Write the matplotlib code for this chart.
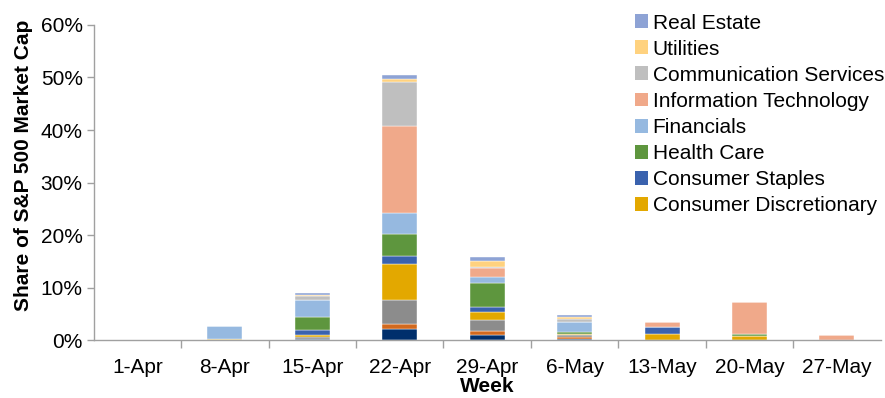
import matplotlib.pyplot as plt
from matplotlib.ticker import FixedLocator, FuncFormatter, NullFormatter
from matplotlib.patches import Patch
import numpy as np

plt.rcParams['font.family'] = ['Liberation Sans', 'DejaVu Sans']

weeks = ['1-Apr', '8-Apr', '15-Apr', '22-Apr', '29-Apr', '6-May', '13-May', '20-May', '27-May']

# share of S&P 500 market cap (%), by sector, bottom to top
energy       = [0, 0.0, 0.1, 2.1, 1.0, 0.1, 0.0, 0.0, 0.0]
materials    = [0, 0.0, 0.1, 1.0, 0.7, 0.5, 0.0, 0.0, 0.0]
industrials  = [0, 0.0, 0.4, 4.6, 2.2, 0.4, 0.0, 0.0, 0.0]
cons_disc    = [0, 0.1, 0.3, 6.7, 1.4, 0.2, 1.1, 0.8, 0.0]
cons_staples = [0, 0.0, 1.0, 1.6, 1.0, 0.0, 1.3, 0.0, 0.0]
health_care  = [0, 0.0, 2.5, 4.2, 4.6, 0.3, 0.0, 0.4, 0.05]
financials   = [0, 2.6, 3.2, 4.0, 1.1, 2.0, 0.0, 0.0, 0.0]
info_tech    = [0, 0.0, 0.1, 16.6, 1.8, 0.0, 1.0, 6.1, 0.9]
comm_serv    = [0, 0.0, 0.6, 8.3, 0.2, 0.5, 0.0, 0.0, 0.0]
utilities    = [0, 0.0, 0.2, 0.6, 1.0, 0.4, 0.0, 0.0, 0.0]
real_estate  = [0, 0.0, 0.4, 0.8, 0.9, 0.3, 0.0, 0.0, 0.0]

series = [
    ('Energy', energy, '#002F6C'),
    ('Materials', materials, '#D2691E'),
    ('Industrials', industrials, '#8C8C8C'),
    ('Consumer Discretionary', cons_disc, '#E3A800'),
    ('Consumer Staples', cons_staples, '#3A62AE'),
    ('Health Care', health_care, '#5E963E'),
    ('Financials', financials, '#96B9E0'),
    ('Information Technology', info_tech, '#F0A98A'),
    ('Communication Services', comm_serv, '#BFBFBF'),
    ('Utilities', utilities, '#FFD27F'),
    ('Real Estate', real_estate, '#8EA3D5'),
]
legend_names = ['Real Estate', 'Utilities', 'Communication Services', 'Information Technology',
                'Financials', 'Health Care', 'Consumer Staples', 'Consumer Discretionary']

FS = 15

fig = plt.figure(figsize=(8.85, 3.98), dpi=100)
ax = fig.add_axes([0.106, 0.1457, 0.889, 0.7915])

x = np.arange(len(weeks))
bottom = np.zeros(len(weeks))
colors = {}
for name, vals, col in series:
    vals = np.array(vals, dtype=float)
    ax.bar(x, vals, width=0.4, bottom=bottom, color=col, edgecolor='white', linewidth=0.3)
    bottom += vals
    colors[name] = col

ax.set_xlim(-0.5, len(weeks) - 0.5)
ax.set_ylim(0, 60)
ax.set_yticks(np.arange(0, 61, 10))
ax.yaxis.set_major_formatter(FuncFormatter(lambda v, p: f'{v:.0f}%'))

# category labels centred, tick marks on the boundaries
ax.set_xticks(x)
ax.set_xticklabels(weeks)
ax.tick_params(axis='x', which='major', length=0, labelsize=FS, pad=13, colors='#000000')
ax.xaxis.set_minor_locator(FixedLocator(np.arange(0.5, len(weeks) - 0.5, 1)))
ax.xaxis.set_minor_formatter(NullFormatter())
ax.tick_params(axis='x', which='minor', length=6, width=1, color='#A0A0A0')
ax.tick_params(axis='y', length=5, width=1, color='#A0A0A0', labelsize=FS, pad=3)

for s in ['top', 'right']:
    ax.spines[s].set_visible(False)
for s in ['left', 'bottom']:
    ax.spines[s].set_color('#A0A0A0')
    ax.spines[s].set_linewidth(1)

ax.set_ylabel('Share of S&P 500 Market Cap', fontsize=FS, fontweight='bold')
ax.yaxis.set_label_coords(-0.077, 0.555)
ax.set_xlabel('Week', fontsize=FS, fontweight='bold', labelpad=0)

handles = [Patch(facecolor=colors[n], edgecolor='none') for n in legend_names]
ax.legend(handles, legend_names, loc='upper left', bbox_to_anchor=(0.717, 0.966),
          bbox_transform=fig.transFigure, frameon=False, fontsize=FS,
          handlelength=0.65, handleheight=0.65, handletextpad=0.22,
          labelspacing=0.34, borderaxespad=0, borderpad=0)

fig.savefig('out.png', dpi=100)
